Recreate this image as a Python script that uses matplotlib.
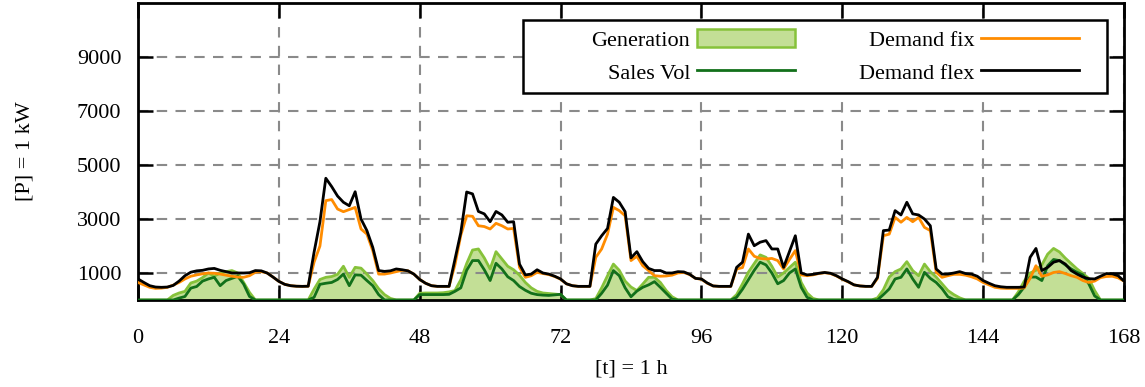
#!/usr/bin/env python3
"""Weekly load profile: generation, sales volume, fixed and flexible demand."""

import matplotlib

matplotlib.use("Agg")
import matplotlib.pyplot as plt
from matplotlib.lines import Line2D
from matplotlib.patches import Patch, Rectangle
import numpy as np

plt.rcParams.update(
    {
        "font.family": ["Liberation Serif", "DejaVu Serif"],
        "font.size": 16,
        "axes.linewidth": 2.0,
    }
)

FILL = "#c3df96"
EDGE = "#86c23a"
SALES = "#12701a"
ORANGE = "#ff8c00"
BLACK = "#000000"
GRID = "#8a8a8a"

hours = np.arange(0, 169)

demand_flex = [
    780, 650, 530, 480, 470, 480, 540, 700, 900, 1030, 1080, 1100, 1150, 1170, 1100, 1050, 1000, 1000, 1000, 1010, 1090, 1080, 1000, 850,
    690, 580, 530, 510, 505, 510, 1770, 2900, 4510, 4200, 3850, 3620, 3490, 4010, 3000, 2570, 1950, 1090, 1060, 1080, 1150, 1120, 1080, 960,
    760, 620, 530, 505, 505, 505, 1500, 2500, 4000, 3930, 3280, 3190, 2900, 3280, 3150, 2880, 2900, 1330, 930, 960, 1120, 1000, 960, 880,
    780, 600, 530, 505, 505, 505, 2070, 2380, 2650, 3800, 3620, 3270, 1560, 1790, 1420, 1170, 1090, 1090, 1000, 1000, 1050, 1040, 950, 800,
    780, 630, 520, 505, 505, 505, 1210, 1400, 2440, 2010, 2140, 2200, 1890, 1890, 1210, 1800, 2380, 1000, 930, 950, 990, 1020, 990, 900,
    780, 680, 560, 520, 505, 505, 840, 2570, 2590, 3310, 3150, 3620, 3190, 3150, 3000, 2750, 1150, 960, 960, 1000, 1050, 980, 960, 880,
    720, 620, 530, 490, 470, 470, 470, 480, 1580, 1910, 1090, 1210, 1400, 1460, 1330, 1090, 960, 850, 790, 780, 880, 980, 970, 900, 700,
]

demand_fix = [
    650, 560, 470, 430, 440, 470, 550, 650, 780, 880, 930, 970, 1000, 990, 960, 920, 880, 850, 840, 900, 1030, 1050, 1000, 850,
    690, 580, 530, 510, 505, 510, 1400, 2000, 3680, 3720, 3370, 3270, 3350, 3430, 2630, 2440, 1830, 960, 960, 1000, 1050, 1100, 1080, 960,
    760, 620, 530, 505, 505, 505, 1300, 2400, 3120, 3100, 2750, 2720, 2630, 2840, 2750, 2630, 2650, 1210, 840, 900, 1025, 980, 940, 870,
    770, 600, 530, 505, 505, 505, 1580, 1890, 2440, 3430, 3310, 3120, 1460, 1620, 1270, 1090, 900, 880, 890, 920, 1000, 1020, 940, 800,
    770, 620, 520, 505, 505, 505, 1150, 1200, 1890, 1620, 1540, 1520, 1540, 1460, 1150, 1500, 1830, 930, 900, 930, 980, 1010, 980, 890,
    770, 670, 560, 520, 505, 505, 800, 2380, 2440, 3060, 2880, 3060, 2900, 3060, 2690, 2570, 1025, 840, 900, 950, 950, 920, 860, 780,
    650, 560, 470, 440, 430, 430, 430, 450, 800, 1270, 880, 930, 1020, 1050, 980, 900, 840, 720, 650, 700, 830, 870, 880, 820, 700,
]

generation = [
    0, 0, 0, 0, 0, 0, 170, 260, 320, 630, 700, 830, 1000, 880, 1000, 1050, 1090, 1000, 650, 280, 0, 0, 0, 0,
    0, 0, 0, 0, 0, 0, 400, 760, 840, 870, 950, 1250, 840, 1210, 1180, 960, 720, 420, 200, 60, 0, 0, 0, 0,
    250, 260, 260, 260, 270, 300, 350, 750, 1350, 1850, 1890, 1560, 1150, 1790, 1520, 1250, 1120, 920, 650, 450, 320, 260, 240, 220,
    200, 0, 0, 0, 0, 0, 50, 450, 900, 1330, 1100, 700, 480, 350, 590, 840, 840, 650, 350, 120, 0, 0, 0, 0,
    0, 0, 0, 0, 0, 0, 200, 600, 1030, 1350, 1670, 1580, 1250, 850, 1000, 1200, 1400, 650, 260, 60, 0, 0, 0, 0,
    0, 0, 0, 0, 0, 0, 80, 380, 850, 1050, 1150, 1420, 1090, 900, 1330, 1050, 850, 600, 350, 200, 80, 0, 0, 0,
    0, 0, 0, 0, 0, 0, 300, 700, 1000, 1100, 1300, 1700, 1910, 1780, 1550, 1350, 1150, 980, 800, 350, 0, 0, 0, 0, 0,
]

sales_vol = [
    0, 0, 0, 0, 0, 0, 0, 70, 130, 440, 500, 700, 780, 840, 530, 720, 800, 880, 590, 130, 0, 0, 0, 0,
    0, 0, 0, 0, 0, 0, 100, 580, 620, 650, 760, 960, 530, 930, 920, 720, 530, 200, 0, 0, 0, 0, 0, 0,
    200, 200, 200, 200, 200, 210, 320, 450, 1100, 1460, 1460, 1120, 720, 1360, 1150, 860, 720, 500, 360, 250, 200, 180, 170, 190,
    210, 0, 0, 0, 0, 0, 0, 250, 550, 1090, 900, 450, 120, 330, 470, 560, 680, 470, 250, 30, 0, 0, 0, 0,
    0, 0, 0, 0, 0, 0, 100, 400, 750, 1100, 1400, 1300, 1000, 600, 720, 1000, 1150, 470, 100, 0, 0, 0, 0, 0,
    0, 0, 0, 0, 0, 0, 0, 200, 410, 780, 840, 1150, 780, 470, 1025, 800, 650, 420, 120, 20, 0, 0, 0, 0,
    0, 0, 0, 0, 0, 0, 200, 480, 850, 850, 720, 1270, 1500, 1460, 1300, 1150, 1025, 930, 600, 150, 0, 0, 0, 0, 0,
]

x_ticks = list(range(0, 169, 24))
y_ticks = [1000, 3000, 5000, 7000, 9000]


def main():
    fig = plt.figure(figsize=(11.45, 3.87), dpi=100)
    ax = fig.add_axes([138 / 1145, 1 - 300 / 387, 986 / 1145, 297 / 387])

    ax.fill_between(hours, 0, generation, facecolor=FILL, edgecolor="none", zorder=1)
    ax.plot(hours, generation, color=EDGE, lw=2.0, zorder=2)
    ax.plot(hours, sales_vol, color=SALES, lw=2.0, zorder=3)
    ax.plot(hours, demand_fix, color=ORANGE, lw=2.0, zorder=4)
    ax.plot(hours, demand_flex, color=BLACK, lw=2.0, zorder=5)

    ax.set_xlim(0, 168)
    ax.set_ylim(0, 11000)
    ax.set_xticks(x_ticks)
    ax.set_yticks(y_ticks)
    ax.tick_params(direction="in", length=11, width=1.8, top=True, right=True)
    ax.tick_params(axis="x", pad=21)
    ax.tick_params(axis="y", pad=12)
    ax.set_axisbelow("line")
    ax.grid(True, color=GRID, lw=1.5, linestyle=(0, (5, 4)))

    ax.set_xlabel("[t] = 1 h")
    ax.xaxis.set_label_coords(0.5, -0.2)
    ax.set_ylabel("[P] = 1 kW")
    ax.yaxis.set_label_coords(-0.105, 0.5)

    # legend box (gnuplot style: text left of the sample)
    ax.add_patch(
        Rectangle(
            (0.3905, 0.697), 0.5923, 0.246, transform=ax.transAxes,
            facecolor="white", edgecolor="black", lw=1.8, zorder=6,
        )
    )
    handles = [
        Patch(facecolor=FILL, edgecolor=EDGE, lw=1.8),
        Line2D([], [], color=SALES, lw=2.0),
        Line2D([], [], color=ORANGE, lw=2.0),
        Line2D([], [], color=BLACK, lw=2.0),
    ]
    labels = ["Generation", "Sales Vol", "Demand fix", "Demand flex"]
    leg = ax.legend(
        handles, labels, ncol=2, markerfirst=False, frameon=False,
        loc="center right", bbox_to_anchor=(0.9655, 0.82), borderpad=0,
        handlelength=4.4, handleheight=0.85, handletextpad=0.3,
        columnspacing=2.9, labelspacing=0.5,
    )
    leg.set_zorder(7)

    fig.savefig("out.png", dpi=100)
    plt.close(fig)


if __name__ == "__main__":
    main()
